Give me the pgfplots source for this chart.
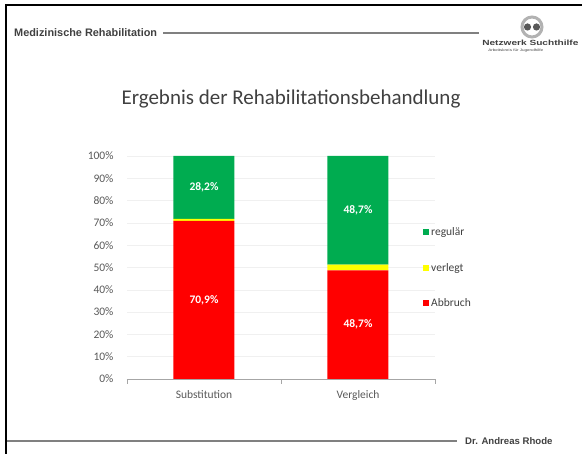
\documentclass[border=0pt]{standalone}
\usepackage{pgfplots}
\pgfplotsset{compat=1.18}
\usepackage{fontspec}
\setmainfont{Carlito}
\newfontfamily\arialfont{Liberation Sans}
\definecolor{regular}{RGB}{0,172,80}
\definecolor{verlegt}{RGB}{255,255,0}
\definecolor{abbruch}{RGB}{255,0,0}
\definecolor{txt}{RGB}{89,89,89}
\definecolor{dark}{RGB}{64,64,64}
\newcommand\chartfont{\fontsize{11.5}{13}\selectfont}

\begin{document}
\begin{tikzpicture}[x=1pt,y=1pt]
\useasboundingbox (0,0) rectangle (582,454);
% slide frame, header, footer
\draw[line width=2.5pt] (6,0) -- (6,449) -- (583,449);
\node[anchor=west, inner sep=0, text=dark, font=\arialfont\bfseries\fontsize{10.9}{12}\selectfont] at (14,421) {Medizinische Rehabilitation};
\draw[gray, line width=1.2pt] (163,421) -- (479,421);
\draw[gray!60, line width=3pt] (532,427) circle (10);
\fill[gray!70!black] (527.5,427) circle (3.6);
\fill[gray!70!black] (536.5,427) circle (3.6);
\node[anchor=base west, inner sep=0, xscale=1.35, text=dark, font=\arialfont\bfseries\fontsize{7.5}{8}\selectfont] at (482,408) {Netzwerk Suchthilfe};
\node[anchor=base west, inner sep=0, xscale=1.3, text=dark, font=\arialfont\fontsize{3.5}{4}\selectfont] at (488,402) {Arbeitskreis für Jugendhilfe};
\draw[gray, line width=1.2pt] (7,13) -- (457,13);
\node[anchor=west, inner sep=0, text=dark, font=\arialfont\bfseries\fontsize{9.6}{12}\selectfont] at (465,13) {Dr. Andreas Rhode};
\node[anchor=base, inner sep=0, text=dark, font=\fontsize{21}{24}\selectfont] at (291,349) {Ergebnis der Rehabilitationsbehandlung};

\begin{axis}[
  at={(127pt,75pt)}, anchor=south west, scale only axis,
  width=308pt, height=223pt,
  ybar stacked, bar width=61pt,
  xmin=-0.5, xmax=1.5, ymin=0, ymax=100,
  axis x line=bottom, axis y line=left,
  axis line style={-}, x axis line style={gray!70}, y axis line style={draw=none},
  xtick={0,1}, xticklabels={Substitution,Vergleich},
  minor xtick={-0.5,0.5,1.5}, minor x tick style={gray!70},
  ytick={0,10,...,100}, yticklabel={\pgfmathprintnumber{\tick}\%},
  /pgf/number format/assume math mode=true,
  tick align=outside, major tick length=0pt, minor tick length=5pt,
  ymajorgrids, grid style={gray!12},
  tick label style={font=\chartfont, text=txt},
  yticklabel style={xshift=-10pt},
  xticklabel style={yshift=-8pt},
  legend image code/.code={\fill[#1] (0pt,-3pt) rectangle (6pt,3pt);},
  reverse legend,
  legend cell align=left,
  legend style={at={(0.961,0.498)}, anchor=west, draw=none, fill=none,
    font=\chartfont, text=dark, inner sep=0pt, row sep=22pt,
    /tikz/every even column/.append style={column sep=3pt}},
]
\addplot[fill=abbruch, draw=none] coordinates {(0,70.9) (1,48.7)};
\addplot[fill=verlegt, draw=none] coordinates {(0,0.9) (1,2.6)};
\addplot[fill=regular, draw=none] coordinates {(0,28.2) (1,48.7)};
\legend{Abbruch,verlegt,regulär}
\end{axis}

\begin{axis}[
  at={(127pt,75pt)}, anchor=south west, scale only axis,
  width=308pt, height=223pt,
  xmin=-0.5, xmax=1.5, ymin=0, ymax=100,
  hide axis, clip=false,
]
\addplot[draw=none, mark=none, nodes near coords={\pgfplotspointmeta},
  point meta=explicit symbolic,
  every node near coord/.append style={anchor=center, text=white, font=\chartfont\bfseries}]
  coordinates {(0,35.45)[70,9\%] (0,85.9)[28,2\%] (1,24.35)[48,7\%] (1,75.65)[48,7\%]};
\end{axis}
\end{tikzpicture}
\end{document}
